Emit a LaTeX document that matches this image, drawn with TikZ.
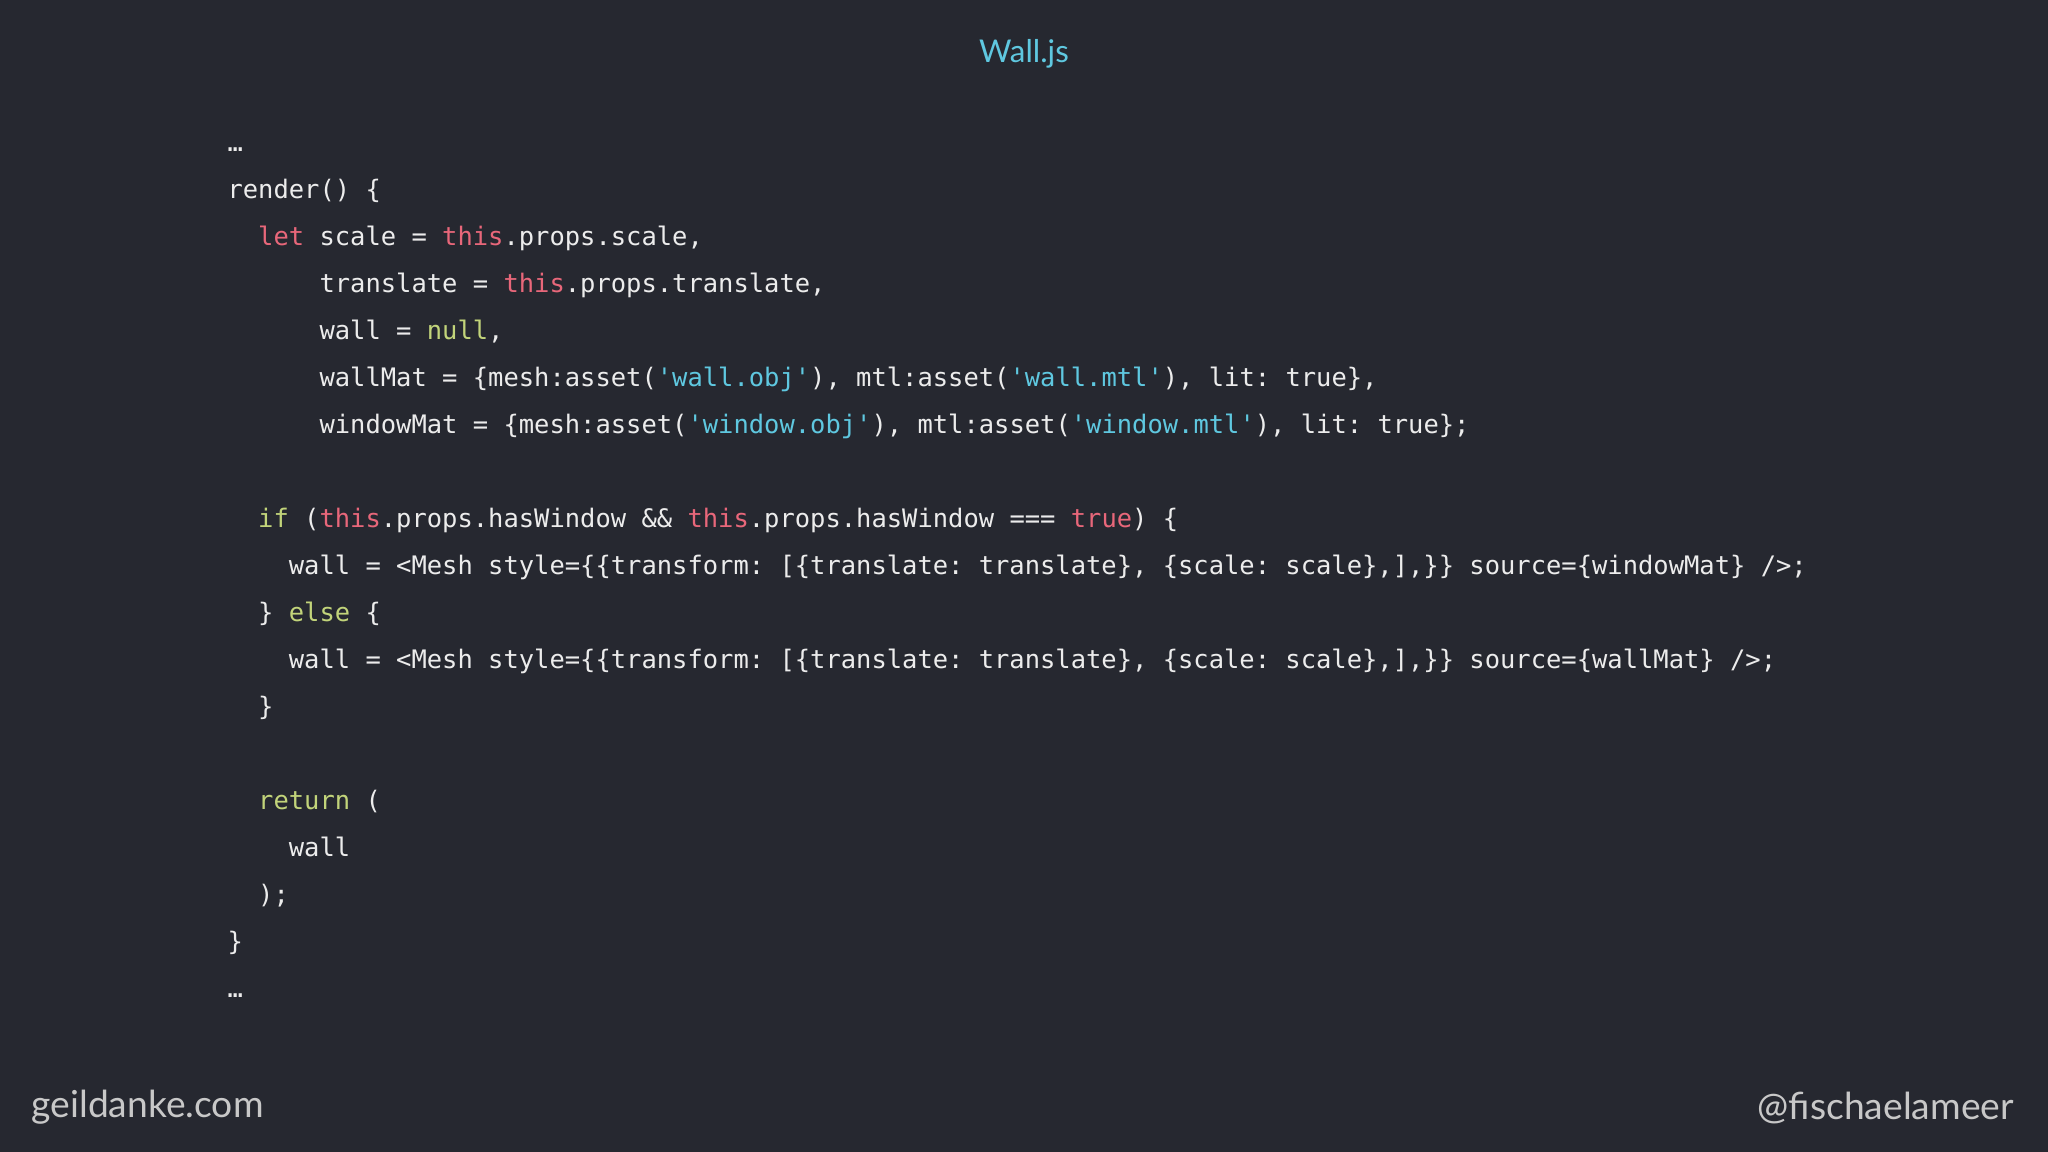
\documentclass[tikz,border=0pt]{standalone}
\usepackage{fontspec}
\setmainfont{Lato}
\setmonofont{DejaVu Sans Mono}
\definecolor{bg}{HTML}{262830}
\definecolor{fg}{HTML}{ECECEC}
\definecolor{ckwc}{HTML}{E8677A}
\definecolor{clitc}{HTML}{C2D47A}
\definecolor{cstrc}{HTML}{5FC8E0}
\definecolor{foot}{HTML}{C8C8C8}
\newcommand\ckw[1]{\textcolor{ckwc}{#1}}
\newcommand\clit[1]{\textcolor{clitc}{#1}}
\newcommand\cstr[1]{\textcolor{cstrc}{#1}}
\begin{document}
\begin{tikzpicture}[x=1pt,y=-1pt,
  code/.style={anchor=base west,inner sep=0pt,text=fg,font=\ttfamily\fontsize{19.5}{20}\selectfont}]
\fill[bg] (0,0) rectangle (1568,882);
\useasboundingbox (0,0) rectangle (1568,882);
\node[text=cstrc,font=\fontsize{24}{26}\selectfont] (title) at (784,41) {Wall.js};
\def\cw{11.74}
\def\bx{174}
\node[code] (l1) at (\bx,116) {…};
\node[code] (l2) at (\bx,152) {render() \{};
\node[code] (l3) at (\bx+2*\cw,188) {\ckw{let} scale = \ckw{this}.props.scale,};
\node[code] (l4) at (\bx+6*\cw,224) {translate = \ckw{this}.props.translate,};
\node[code] (l5) at (\bx+6*\cw,260) {wall = \clit{null},};
\node[code] (l6) at (\bx+6*\cw,296) {wallMat = \{mesh:asset(\cstr{'wall.obj'}), mtl:asset(\cstr{'wall.mtl'}), lit: true\},};
\node[code] (l7) at (\bx+6*\cw,332) {windowMat = \{mesh:asset(\cstr{'window.obj'}), mtl:asset(\cstr{'window.mtl'}), lit: true\};};
\node[code] (l8) at (\bx+2*\cw,404) {\clit{if} (\ckw{this}.props.hasWindow \&\& \ckw{this}.props.hasWindow === \ckw{true}) \{};
\node[code] (l9) at (\bx+4*\cw,440) {wall = <Mesh style=\{\{transform: [\{translate: translate\}, \{scale: scale\},],\}\} source=\{windowMat\} />;};
\node[code] (l10) at (\bx+2*\cw,476) {\} \clit{else} \{};
\node[code] (l11) at (\bx+4*\cw,512) {wall = <Mesh style=\{\{transform: [\{translate: translate\}, \{scale: scale\},],\}\} source=\{wallMat\} />;};
\node[code] (l12) at (\bx+2*\cw,548) {\}};
\node[code] (l13) at (\bx+2*\cw,620) {\clit{return} (};
\node[code] (l14) at (\bx+4*\cw,656) {wall};
\node[code] (l15) at (\bx+2*\cw,692) {);};
\node[code] (l16) at (\bx,728) {\}};
\node[code] (l17) at (\bx,764) {…};
\node[anchor=west,inner sep=0pt,text=foot,font=\fontsize{28.5}{30}\selectfont] (fl) at (24,848) {geildanke.com};
\node[anchor=east,inner sep=0pt,text=foot,font=\fontsize{28.5}{30}\selectfont] (fr) at (1542,848) {@fischaelameer};
\end{tikzpicture}
\end{document}
